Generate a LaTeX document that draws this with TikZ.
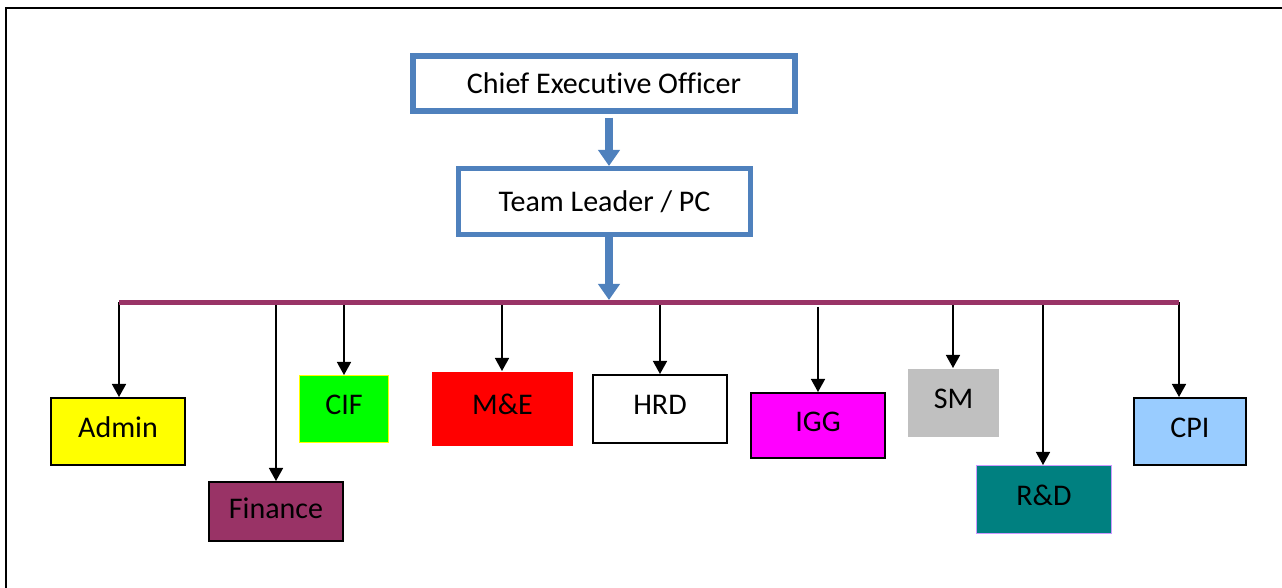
\documentclass[tikz,border=0pt]{standalone}
\usepackage{fontspec}
\setmainfont{Carlito}[Ligatures=NoCommon]
\usepackage{tikz}
\usetikzlibrary{arrows.meta}
\definecolor{headblue}{HTML}{4F81BD}
\definecolor{buspurple}{HTML}{993366}
\definecolor{adminyellow}{HTML}{FFFF00}
\definecolor{cifgreen}{HTML}{00FF00}
\definecolor{mered}{HTML}{FF0000}
\definecolor{iggmagenta}{HTML}{FF00FF}
\definecolor{cpiblue}{HTML}{99CCFF}
\definecolor{rdteal}{HTML}{008080}
\definecolor{rdlilac}{HTML}{CC99FF}
\definecolor{smgray}{HTML}{C0C0C0}
\tikzset{
  head node/.style={draw=headblue,line width=2.75pt,fill=white,font=\fontsize{15}{18}\selectfont},
  unit node/.style={draw,line width=1pt,inner sep=0pt,text height=10pt,text depth=4.3pt,font=\fontsize{15}{18}\selectfont},
  head link/.style={-{Triangle[width=10.5pt,length=8pt]},draw=headblue,line width=3.75pt},
  down link/.style={-{Triangle[width=7pt,length=6.5pt]},line width=0.75pt},
  bus line/.style={draw=buspurple,line width=2.5pt}
}

\begin{document}
\begin{tikzpicture}[x=0.5pt,y=-0.5pt]
  \useasboundingbox (0,0) rectangle (1282,588);
  \draw [line width=1pt] (6,588) -- (6,7.7) -- (1282,7.7);

  \node [head node,minimum width=191pt,minimum height=27.5pt] (ceo) at (604,83.5) {Chief Executive Officer};
  \node [head node,line width=2.5pt,minimum width=146pt,minimum height=33pt] (tl) at (604.5,201.5) {Team Leader / PC};

  % units
  \node [unit node,fill=adminyellow,minimum width=67pt,minimum height=33.5pt] (admin) at (118,431.5) {Admin};
  \node [unit node,fill=buspurple,text depth=2.5pt,minimum width=67pt,minimum height=29.5pt] (finance) at (276,511.5) {Finance};
  \node [unit node,fill=cifgreen,draw=adminyellow,line width=0.5pt,minimum width=44.5pt,minimum height=33.5pt] (cif) at (344,409) {CIF};
  \node [unit node,fill=mered,draw=none,minimum width=70.5pt,minimum height=37pt] (me) at (502.5,409) {M\&E};
  \node [unit node,fill=white,minimum width=67pt,minimum height=34pt] (hrd) at (660,409) {HRD};
  \node [unit node,fill=iggmagenta,minimum width=67pt,minimum height=32.5pt] (igg) at (818,425.5) {IGG};
  \node [unit node,fill=smgray,draw=none,minimum width=45.5pt,minimum height=34pt] (sm) at (953.5,403) {SM};
  \node [unit node,fill=rdteal,draw=rdlilac,line width=0.5pt,minimum width=67.5pt,minimum height=34pt] (rd) at (1044,499.5) {R\&D};
  \node [unit node,fill=cpiblue,minimum width=56pt,minimum height=33.5pt] (cpi) at (1190,431.5) {CPI};

  % bus and taps
  \coordinate (busl) at (119,302.5);
  \coordinate (busr) at (1179,302.5);
  \coordinate (spine) at (609,302.5);
  \coordinate (tfin) at (276,302.5);
  \coordinate (tcif) at (344,302.5);
  \coordinate (tme) at (502,302.5);
  \coordinate (thrd) at (660,302.5);
  \coordinate (tigg) at (818,302.5);
  \coordinate (tsm) at (953,302.5);
  \coordinate (trd) at (1043,302.5);

  \draw [down link] (busl) -- (admin.north -| busl);
  \draw [down link] (tfin) -- (finance.north -| tfin);
  \draw [down link] (tcif) -- (cif.north -| tcif);
  \draw [down link] (tme) -- (me.north -| tme);
  \draw [down link] (thrd) -- (hrd.north -| thrd);
  \draw [down link,shorten <=2.25pt] (tigg) -- (igg.north -| tigg);
  \draw [down link] (tsm) -- (sm.north -| tsm);
  \draw [down link] (trd) -- (rd.north -| trd);
  \draw [down link] (busr) -- (cpi.north -| busr);
  \draw [bus line] (busl) -- (busr);

  \draw [head link,shorten <=2pt] (ceo.south -| spine) -- (tl.north -| spine);
  \draw [head link,shorten >=1.25pt] (tl.south -| spine) -- (spine);
\end{tikzpicture}
\end{document}
